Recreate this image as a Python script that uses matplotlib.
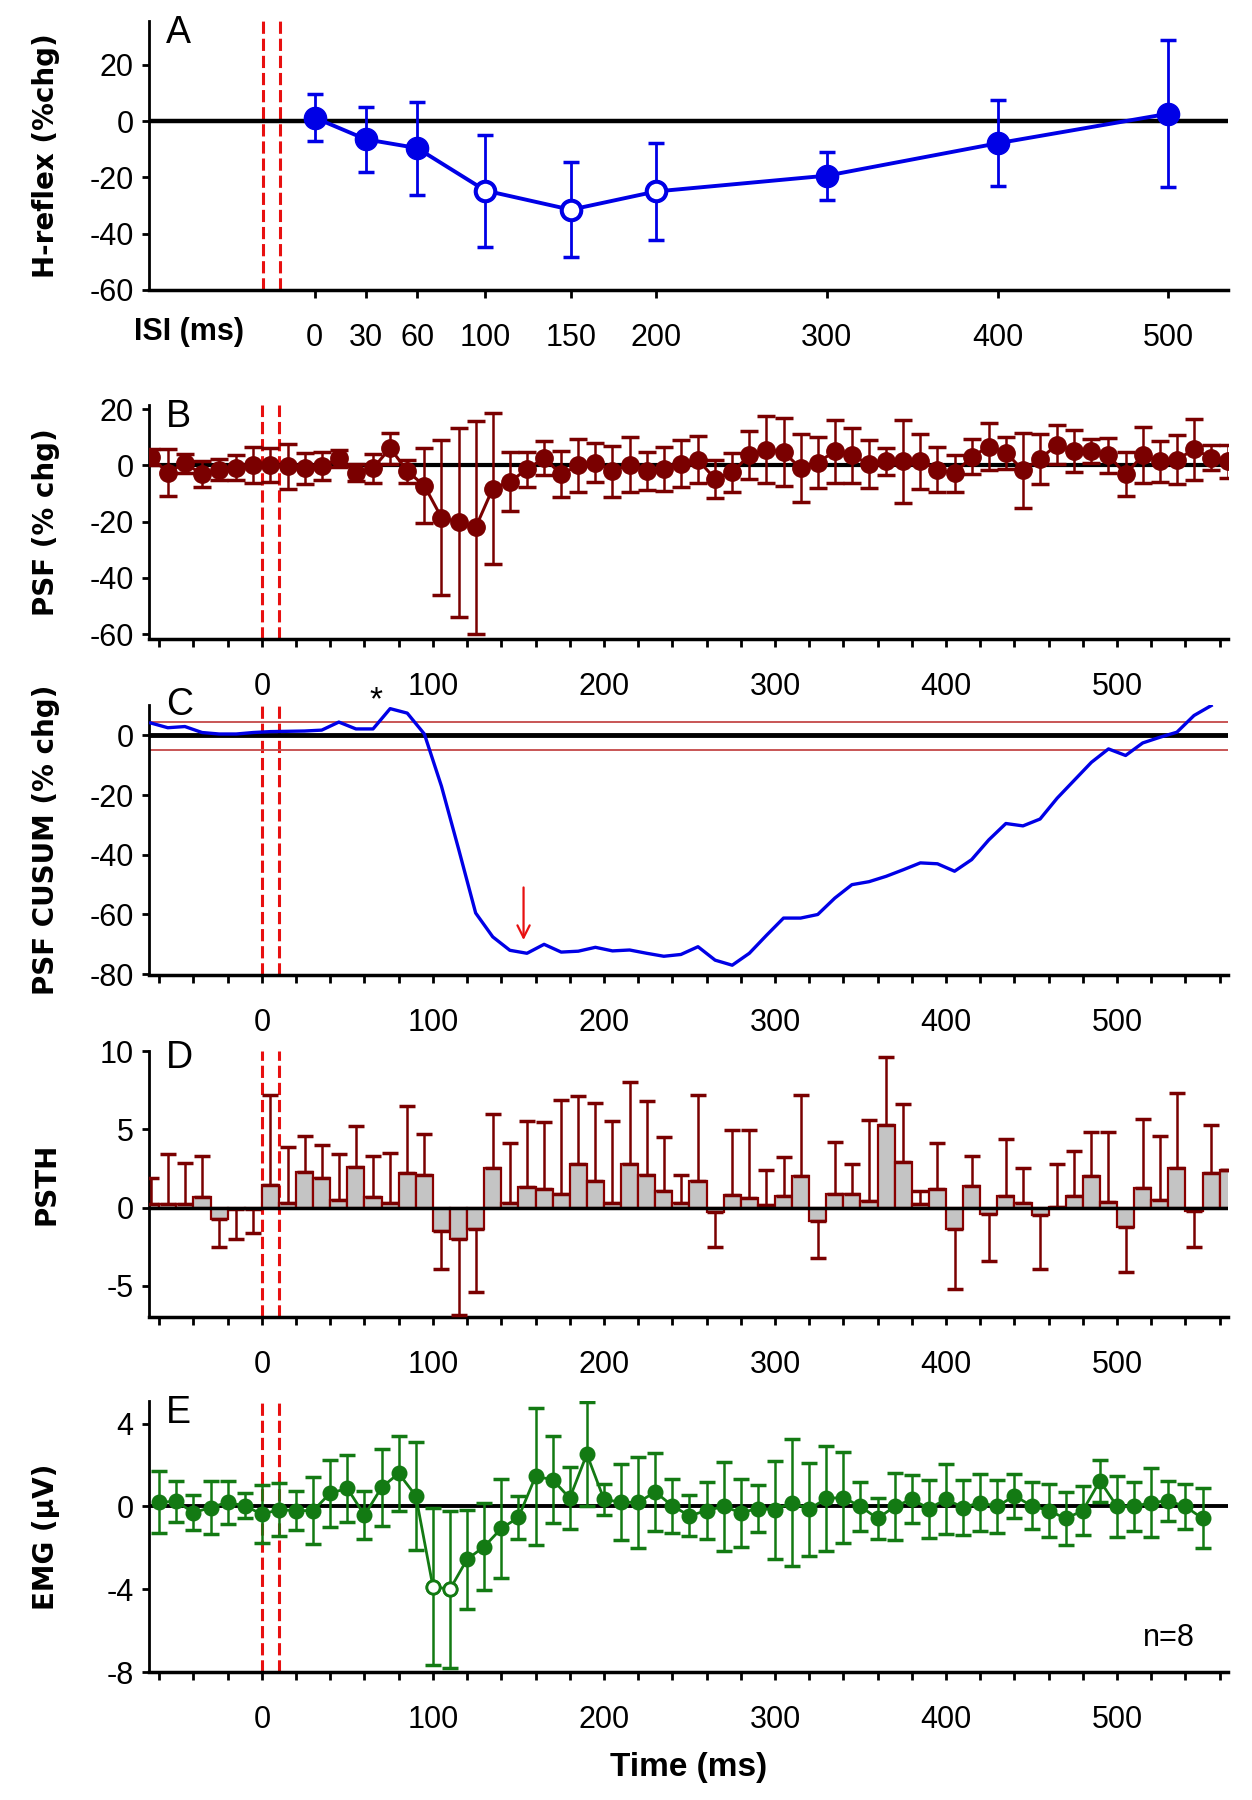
import numpy as np
import matplotlib
matplotlib.use("Agg")
import matplotlib.pyplot as plt

plt.rcParams['font.family'] = ['Liberation Sans Narrow', 'Liberation Sans', 'DejaVu Sans']
plt.rcParams['axes.unicode_minus'] = False

# ---------------- data ----------------
# A: H-reflex change vs ISI
isi = [0, 30, 60, 100, 150, 200, 300, 400, 500]
hr_mean = [1.2, -6.5, -9.6, -24.7, -31.5, -25.0, -19.4, -7.9, 2.6]
hr_err = [8.3, 11.5, 16.5, 19.9, 16.9, 17.2, 8.5, 15.3, 26.2]
hr_open = [False, False, False, True, True, True, False, False, False]

# B: PSF (% chg), 10 ms bins, centres -65 .. 565 ms
psf_t = np.arange(-65, 566, 10)
psf_mean = [3.0, -2.5, 0.8, -3.1, -1.5, -0.8, 0.0, 0.3, -0.3, -1.0,
            -0.3, 2.5, -2.6, -1.0, 6.2, -2.0, -7.2, -18.5, -20.2, -22.0,
            -8.2, -5.8, -1.3, 2.6, -3.1, 0.0, 1.0, -2.0, 0.3, -2.0,
            -1.3, 0.7, 2.0, -4.8, -2.4, 3.6, 5.6, 4.8, -1.0, 1.0,
            5.1, 3.6, 0.5, 1.5, 1.5, 1.5, -1.5, -2.8, 3.1, 6.7,
            4.6, -1.7, 2.4, 7.4, 5.1, 5.1, 3.6, -3.1, 3.6, 1.5,
            2.0, 5.8, 2.8, 1.5]
psf_err = [3.0, 8.4, 3.3, 4.6, 3.8, 4.4, 6.4, 6.0, 8.1, 5.5,
           5.0, 3.0, 3.0, 5.1, 5.5, 4.1, 13.3, 27.5, 33.6, 37.8,
           26.7, 10.5, 6.2, 6.1, 8.2, 9.4, 6.9, 9.1, 9.9, 6.8,
           7.7, 8.5, 8.4, 6.7, 7.0, 8.5, 11.9, 12.2, 12.1, 9.1,
           11.2, 9.9, 8.5, 4.8, 14.8, 9.8, 8.0, 6.6, 6.2, 8.3,
           5.7, 13.4, 8.9, 7.0, 7.4, 4.2, 6.3, 7.9, 10.0, 7.2,
           8.7, 10.8, 4.5, 5.8]

# C: PSF CUSUM (% chg), -65 .. 555 ms
cusum_t = np.arange(-65, 556, 10)
cusum = [4.2, 2.6, 3.0, 1.0, 0.5, 0.5, 1.0, 1.3, 1.4, 1.5,
         1.8, 4.5, 2.2, 2.2, 9.0, 7.5, 0.5, -17.0, -38.0, -59.5,
         -67.5, -72.0, -73.0, -70.0, -72.6, -72.3, -71.0, -72.2, -71.9, -73.0,
         -74.0, -73.4, -70.8, -75.3, -77.0, -73.0, -67.0, -61.2, -61.2, -60.0,
         -54.5, -50.0, -49.0, -47.2, -45.0, -42.7, -43.0, -45.5, -41.6, -35.0,
         -29.5, -30.3, -28.0, -21.0, -15.0, -9.0, -4.5, -6.7, -2.5, -0.6,
         1.1, 6.7, 10.0]
cusum_band = [4.5, -5.0]

# D: PSTH, 10 ms bins, centres -65 .. 565 ms
psth = [0.2, 0.2, 0.2, 0.7, -0.74, -0.1, -0.1, 1.44, 0.3, 2.3,
        1.9, 0.5, 2.6, 0.7, 0.3, 2.2, 2.1, -1.5, -2.0, -1.4,
        2.5, 0.3, 1.3, 1.2, 0.85, 2.8, 1.7, 0.3, 2.8, 2.1,
        1.05, 0.3, 1.7, -0.27, 0.8, 0.63, 0.15, 0.74, 2.0, -0.87,
        0.85, 0.85, 0.42, 5.3, 2.9, 0.2, 1.2, -1.4, 1.37, -0.4,
        0.74, 0.3, -0.5, 0.05, 0.74, 2.0, 0.36, -1.27, 1.25, 0.47,
        2.5, -0.2, 2.2, 2.4]
psth_err = [1.7, 3.2, 2.65, 2.6, 1.76, 1.9, 1.53, 5.76, 3.55, 2.3,
            2.1, 2.9, 2.6, 2.6, 3.2, 4.3, 2.6, 2.4, 4.9, 4.0,
            3.5, 3.8, 4.2, 4.25, 6.05, 4.3, 5.0, 5.2, 5.2, 4.7,
            3.45, 1.75, 5.5, 2.23, 4.15, 4.32, 2.25, 2.46, 5.2, 2.33,
            3.35, 1.9, 5.18, 4.3, 3.7, 0.85, 2.95, 3.8, 1.93, 3.0,
            3.66, 2.2, 3.4, 2.75, 2.86, 2.8, 4.44, 2.83, 4.4, 4.13,
            4.8, 2.3, 3.1, 0.0]

# E: EMG (uV), -60 .. 550 ms
emg_t = np.arange(-60, 551, 10)
emg = [0.2, 0.25, -0.3, -0.05, 0.2, 0.03, -0.37, -0.16, -0.2, -0.2,
       0.65, 0.87, -0.42, 0.92, 1.6, 0.52, -3.87, -4.0, -2.55, -1.94,
       -1.06, -0.53, 1.45, 1.3, 0.4, 2.53, 0.35, 0.2, 0.2, 0.7,
       0.03, -0.45, -0.2, 0.0, -0.3, -0.1, -0.16, 0.19, -0.13, 0.39,
       0.43, 0.0, -0.58, 0.0, 0.35, -0.1, 0.35, -0.05, 0.19, 0.0,
       0.52, 0.03, -0.2, -0.58, -0.2, 1.24, 0.0, 0.0, 0.19, 0.27,
       0.0, -0.58]
emg_err = [1.5, 1.0, 0.85, 1.27, 1.05, 0.6, 1.4, 1.28, 0.93, 1.63,
           1.62, 1.6, 1.15, 1.86, 1.8, 2.6, 3.8, 3.8, 2.4, 2.1,
           2.4, 1.03, 3.3, 2.1, 1.5, 2.5, 0.74, 1.83, 2.2, 1.9,
           1.3, 1.0, 1.37, 2.15, 1.65, 1.15, 2.37, 3.05, 2.24, 2.54,
           2.2, 1.17, 0.97, 1.63, 1.17, 1.4, 1.7, 1.33, 1.37, 1.3,
           1.07, 1.13, 1.27, 1.3, 1.2, 1.0, 1.48, 1.2, 1.65, 0.97,
           1.1, 1.45]
emg_open_t = [100, 110]

time_labels = [0, 100, 200, 300, 400, 500]
time_minor = [-60, -40, -20, 20, 40, 60, 80, 120, 140, 160, 180, 220, 240, 260, 280,
              320, 340, 360, 380, 420, 440, 460, 480, 520, 540, 560]
stim_lines = [0, 10]

# ---------------- styling ----------------
BLUE = '#0000e6'
DRED = '#7a0000'
GREEN = '#137a13'
RED = '#e81010'
TICKFS = 22
LABFS = 20

fig = plt.figure(figsize=(12.52, 18.0), dpi=100)
L, W = 0.119, 0.862
axA = fig.add_axes([L, 0.8389, W, 0.1494])
axB = fig.add_axes([L, 0.6450, W, 0.1300])
axC = fig.add_axes([L, 0.4583, W, 0.1500])
axD = fig.add_axes([L, 0.2683, W, 0.1478])
axE = fig.add_axes([L, 0.0711, W, 0.1506])


def style(ax, ylabel, letter, ly):
    for s in ['top', 'right']:
        ax.spines[s].set_visible(False)
    ax.spines['left'].set_linewidth(2)
    ax.spines['bottom'].set_linewidth(2.5)
    ax.tick_params(axis='y', which='both', direction='out', length=5, width=2,
                   labelsize=TICKFS, pad=6)
    ax.tick_params(axis='x', which='both', direction='out', length=6, width=2,
                   labelsize=TICKFS, pad=18)
    ax.set_ylabel(ylabel, fontsize=LABFS, fontweight='bold', family='DejaVu Sans')
    ax.yaxis.set_label_coords(-0.082, 0.5)
    ax.text(0.016, ly, letter, transform=ax.transAxes, fontsize=27,
            va='center', ha='left')


def time_axis(ax):
    ax.set_xlim(-66, 565)
    ax.set_xticks(time_labels)
    ax.set_xticks(time_minor, minor=True)
    for x in stim_lines:
        ax.axvline(x, color=RED, lw=2.2, ls=(0, (4, 1.6)), zorder=1)


# ---- A ----
ax = axA
ax.set_xlim(-97, 535)
ax.set_ylim(-60, 35.5)
ax.axhline(0, color='black', lw=3.2, zorder=2)
for x in stim_lines:
    ax.axvline(x - 30, color=RED, lw=2.2, ls=(0, (4, 1.6)), zorder=1)
ax.errorbar(isi, hr_mean, yerr=hr_err, fmt='-o', color=BLUE, lw=2.8, ms=16,
            elinewidth=2, capsize=6, capthick=2.5, zorder=3)
ax.plot([x for x, o in zip(isi, hr_open) if o],
        [y for y, o in zip(hr_mean, hr_open) if o],
        'o', ms=13.5, mfc='white', mec=BLUE, mew=2.4, zorder=4)
ax.set_xticks(isi)
ax.set_xticklabels([str(v) for v in isi])
ax.set_yticks([-60, -40, -20, 0, 20])
style(ax, 'H-reflex (%chg)', 'A', 0.955)
ax.text(0.037, -0.155, 'ISI (ms)', transform=ax.transAxes, fontsize=TICKFS,
        fontweight='bold', ha='center', va='center')

# ---- B ----
ax = axB
time_axis(ax)
ax.set_ylim(-61.7, 21.5)
ax.axhline(0, color='black', lw=3, zorder=2)
ax.errorbar(psf_t, psf_mean, yerr=psf_err, fmt='-o', color=DRED, lw=2.2, ms=12.5,
            elinewidth=1.8, capsize=6.5, capthick=2.5, zorder=3, clip_on=True)
ax.set_yticks([-60, -40, -20, 0, 20])
style(ax, 'PSF (% chg)', 'B', 0.95)

# ---- C ----
ax = axC
time_axis(ax)
ax.set_ylim(-80.3, 10.2)
ax.axhline(0, color='black', lw=3.5, zorder=2)
for yb in cusum_band:
    ax.axhline(yb, color='#c44848', lw=1.3, zorder=2)
ax.plot(cusum_t, cusum, color=BLUE, lw=2.4, zorder=3)
ax.annotate('', xy=(153, -69.5), xytext=(153, -50),
            arrowprops=dict(arrowstyle='->', color=RED, lw=1.6, mutation_scale=22))
ax.text(67, 11.5, '*', fontsize=24, ha='center', va='center', clip_on=False)
ax.set_yticks([-80, -60, -40, -20, 0])
style(ax, 'PSF CUSUM (% chg)', 'C', 1.0)

# ---- D ----
ax = axD
time_axis(ax)
ax.set_ylim(-7, 10)
lower = [e if v < 0 else 0 for v, e in zip(psth, psth_err)]
upper = [e if v >= 0 else 0 for v, e in zip(psth, psth_err)]
ax.bar(psf_t, psth, width=10, color='#c4c4c4', edgecolor='#8a0000', lw=1.6, zorder=2)
ax.errorbar(psf_t, psth, yerr=[lower, upper], fmt='none', ecolor=DRED,
            elinewidth=1.8, capsize=6, capthick=2.5, zorder=3)
ax.axhline(0, color='black', lw=2.5, zorder=4)
ax.set_yticks([-5, 0, 5, 10])
style(ax, 'PSTH', 'D', 0.975)

# ---- E ----
ax = axE
time_axis(ax)
ax.set_ylim(-8, 5.1)
ax.axhline(0, color='black', lw=2.8, zorder=2)
ax.errorbar(emg_t, emg, yerr=emg_err, fmt='-o', color=GREEN, lw=2, ms=10.5,
            elinewidth=1.8, capsize=6, capthick=2.5, zorder=3)
ax.plot(emg_open_t, [emg[list(emg_t).index(t)] for t in emg_open_t], 'o', ms=9.5,
        mfc='white', mec=GREEN, mew=2, zorder=4)
ax.set_yticks([-8, -4, 0, 4])
style(ax, 'EMG (\u00b5V)', 'E', 0.955)
ax.text(0.945, 0.125, 'n=8', transform=ax.transAxes, fontsize=22, ha='center', va='center')
ax.set_xlabel('Time (ms)', fontsize=24, fontweight='bold', labelpad=12)

fig.savefig('out.png', dpi=100)
